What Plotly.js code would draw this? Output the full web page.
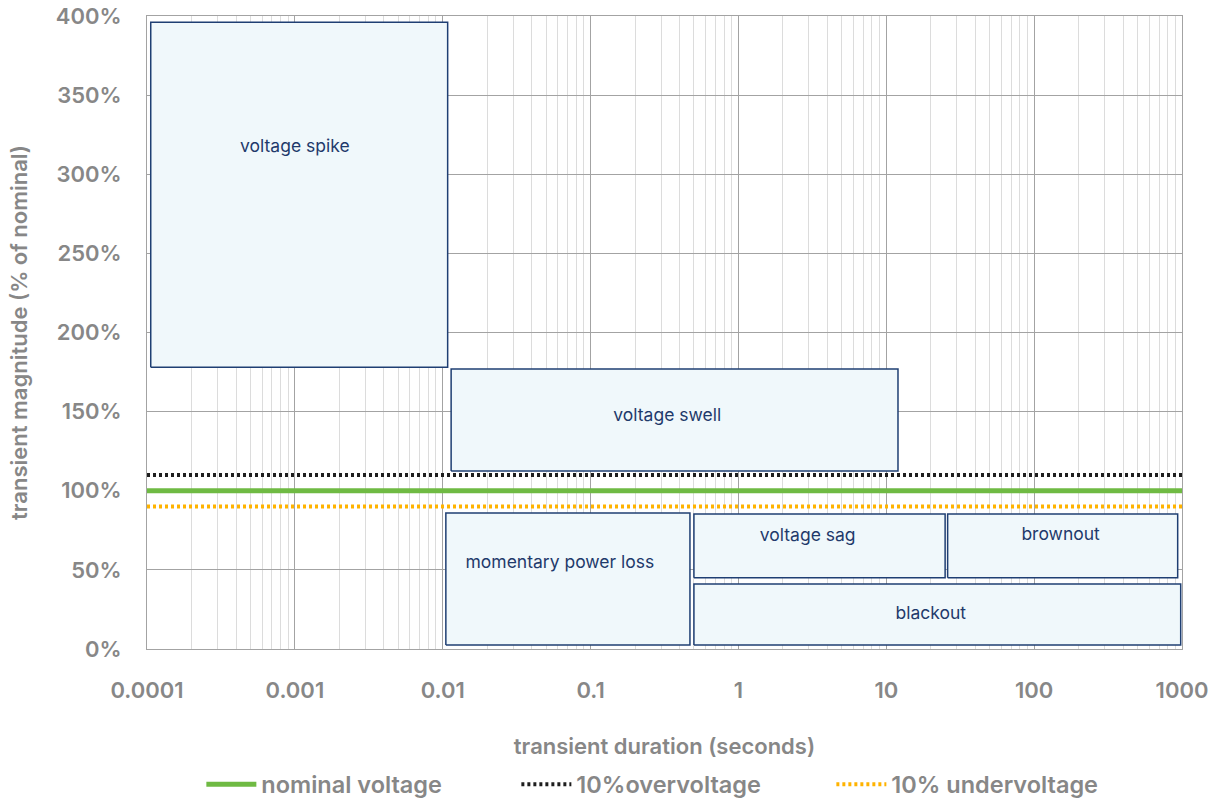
<!DOCTYPE html>
<html>
<head>
<meta charset="utf-8">
<script src="https://cdn.plot.ly/plotly-3.0.1.min.js"></script>
<style>html,body{margin:0;padding:0;background:#fff;}#chart{width:1213px;height:802px;}</style>
</head>
<body>
<div id="chart"></div>
<script>
// Transient event regions (duration in seconds, magnitude in % of nominal)
const categories = ['voltage spike', 'voltage swell', 'momentary power loss', 'voltage sag', 'brownout', 'blackout'];
const durStart = [0.000106, 0.0114, 0.0105, 0.5, 26, 0.5];
const durEnd   = [0.0108, 12, 0.47, 25, 935, 980];
const magLow   = [178, 112.5, 2.5, 45, 45, 2.5];
const magHigh  = [396, 177, 86, 85.3, 85.3, 41];
const labelDur = [0.001, 0.33, 0.062, 2.94, 151, 20];
const labelMag = [317, 147, 54, 71, 71.5, 21.5];

// Reference levels
const refNames  = ['nominal voltage', '10%overvoltage', '10% undervoltage'];
const refLevels = [100, 110, 90];
const durRange  = [0.0001, 1000];

// Axis ticks
const xTickVals = [0.0001, 0.001, 0.01, 0.1, 1, 10, 100, 1000];
const xTickText = ['0.0001', '0.001', '0.01', '0.1', '1', '10', '100', '1000'];
const yTickVals = [0, 50, 100, 150, 200, 250, 300, 350, 400];
const yTickText = ['0%', '50%', '100%', '150%', '200%', '250%', '300%', '350%', '400%'];

const boxLine = '#1f3f73';
const boxFill = '#f0f8fb';
const textBlue = '#1f3a6b';
const grey = '#878787';
const FONT = 'Inter, "Open Sans", sans-serif';

const traces = [];
categories.forEach((c, i) => {
  traces.push({
    type: 'scatter', mode: 'lines',
    x: [durStart[i], durEnd[i], durEnd[i], durStart[i], durStart[i]],
    y: [magLow[i], magLow[i], magHigh[i], magHigh[i], magLow[i]],
    fill: 'toself', fillcolor: boxFill,
    line: {color: boxLine, width: 1.5},
    showlegend: false, hoverinfo: 'skip', name: c
  });
});
traces.push({
  type: 'scatter', mode: 'text',
  x: labelDur, y: labelMag, text: categories,
  textfont: {family: FONT, size: 17.5, color: textBlue},
  textposition: 'middle center',
  showlegend: false, hoverinfo: 'skip'
});
const refColors = ['#6fba43', '#1e1e1e', '#ffb300'];
const refDash = ['solid', '3px,3px', '3px,3px'];
const refWidth = [5, 4, 4];
refNames.forEach((n, i) => {
  traces.push({
    type: 'scatter', mode: 'lines', name: n,
    x: durRange, y: [refLevels[i], refLevels[i]],
    line: {color: refColors[i], width: refWidth[i], dash: refDash[i]},
    hoverinfo: 'skip'
  });
});

const layout = {
  width: 1213, height: 802,
  margin: {l: 147, r: 31, t: 16, b: 153},
  paper_bgcolor: '#fff', plot_bgcolor: '#fff',
  font: {family: FONT, color: grey},
  showlegend: true,
  legend: {
    orientation: 'h', xref: 'container', x: 0.166, xanchor: 'left',
    yref: 'container', y: 0.022, yanchor: 'middle',
    font: {family: FONT, size: 23.5, color: grey, weight: 600},
    entrywidth: 250, entrywidthmode: 'pixels',
    itemwidth: 50
  },
  xaxis: {
    type: 'log', range: [-4, 3],
    tickmode: 'array', tickvals: xTickVals, ticktext: xTickText,
    ticks: 'outside', ticklen: 22, tickcolor: 'rgba(0,0,0,0)',
    tickfont: {family: FONT, size: 22, color: grey, weight: 600},
    showgrid: true, gridcolor: '#a3a3a3', gridwidth: 1,
    minor: {dtick: 'D1', showgrid: true, gridcolor: '#dcdcdc', gridwidth: 1, ticks: ''},
    showline: true, mirror: true, linecolor: '#a3a3a3', linewidth: 1,
    zeroline: false,
    title: {text: 'transient duration (seconds)', font: {family: FONT, size: 22, color: grey, weight: 600}, standoff: 36}
  },
  yaxis: {
    range: [0, 400],
    tickmode: 'array', tickvals: yTickVals, ticktext: yTickText,
    ticks: 'outside', ticklen: 20, tickcolor: 'rgba(0,0,0,0)',
    tickfont: {family: FONT, size: 22, color: grey, weight: 600},
    showgrid: true, gridcolor: '#a3a3a3', gridwidth: 1,
    showline: true, mirror: true, linecolor: '#a3a3a3', linewidth: 1,
    zeroline: false,
    title: {text: 'transient magnitude (% of nominal)', font: {family: FONT, size: 22, color: grey, weight: 600}, standoff: 22}
  }
};

Plotly.newPlot('chart', traces, layout, {displayModeBar: false, staticPlot: true});
</script>
</body>
</html>
